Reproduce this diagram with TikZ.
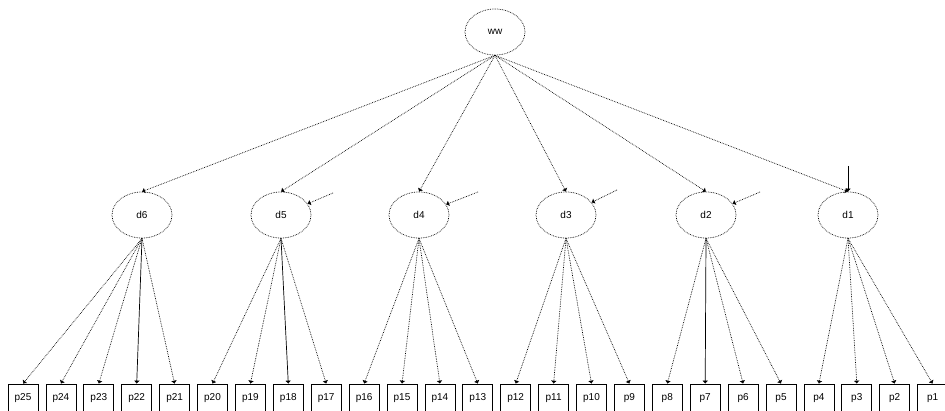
\documentclass[tikz,border=0pt]{standalone}
\usepackage{fontspec}
\setmainfont{Liberation Sans}
\usetikzlibrary{shapes.geometric,arrows.meta}
\begin{document}
\begin{tikzpicture}[x=1pt,y=-1pt,
  lat/.style={ellipse,draw,densely dotted,line width=0.7pt,minimum width=60pt,minimum height=46pt,inner sep=0pt,font=\fontsize{10}{12}\selectfont},
  obs/.style={rectangle,draw,line width=0.7pt,minimum width=30pt,minimum height=28pt,inner sep=0pt,font=\fontsize{10}{12}\selectfont},
  fixedarrow/.style={-{Latex[length=3pt,width=6pt]},line width=0.7pt},
  freearrow/.style={fixedarrow,densely dotted}]
\useasboundingbox (0,0) rectangle (945,411);
% latent variables
\node[lat] (top) at (495,32) {ww};
\node[lat] (d6) at (142,215) {d6};
\node[lat] (d5) at (281,215) {d5};
\node[lat] (d4) at (419,215) {d4};
\node[lat] (d3) at (566,215) {d3};
\node[lat] (d2) at (706,215) {d2};
\node[lat] (d1) at (848,215) {d1};
% observed variables
\foreach \i in {0,...,24}{
  \pgfmathsetmacro{\xx}{23+37.9*\i}
  \pgfmathtruncatemacro{\nn}{25-\i}
  \node[obs] (p\nn) at (\xx,398) {p\nn};
}
% second-order loadings
\foreach \d in {d6,d5,d4,d3,d2,d1}{
  \draw[freearrow] (top.south) -- (\d.north);
}
% residuals
\coordinate (r5) at (333,193);
\coordinate (r4) at (478,192);
\coordinate (r3) at (617,190);
\coordinate (r2) at (760,192);
\coordinate (r1) at (848,166);
\draw[freearrow] (r5) -- (d5);
\draw[freearrow] (r4) -- (d4);
\draw[freearrow] (r3) -- (d3);
\draw[freearrow] (r2) -- (d2);
\draw[fixedarrow] (r1) -- (d1.north);
% first-order loadings
\foreach \p in {25,24,23,21}{\draw[freearrow] (d6.south) -- (p\p.north);}
\draw[fixedarrow] (d6.south) -- (p22.north);
\foreach \p in {20,19,17}{\draw[freearrow] (d5.south) -- (p\p.north);}
\draw[fixedarrow] (d5.south) -- (p18.north);
\foreach \p in {16,15,14,13}{\draw[freearrow] (d4.south) -- (p\p.north);}
\foreach \p in {12,11,10,9}{\draw[freearrow] (d3.south) -- (p\p.north);}
\foreach \p in {8,6,5}{\draw[freearrow] (d2.south) -- (p\p.north);}
\draw[fixedarrow] (d2.south) -- (p7.north);
\foreach \p in {4,3,2,1}{\draw[freearrow] (d1.south) -- (p\p.north);}
\end{tikzpicture}
\end{document}
